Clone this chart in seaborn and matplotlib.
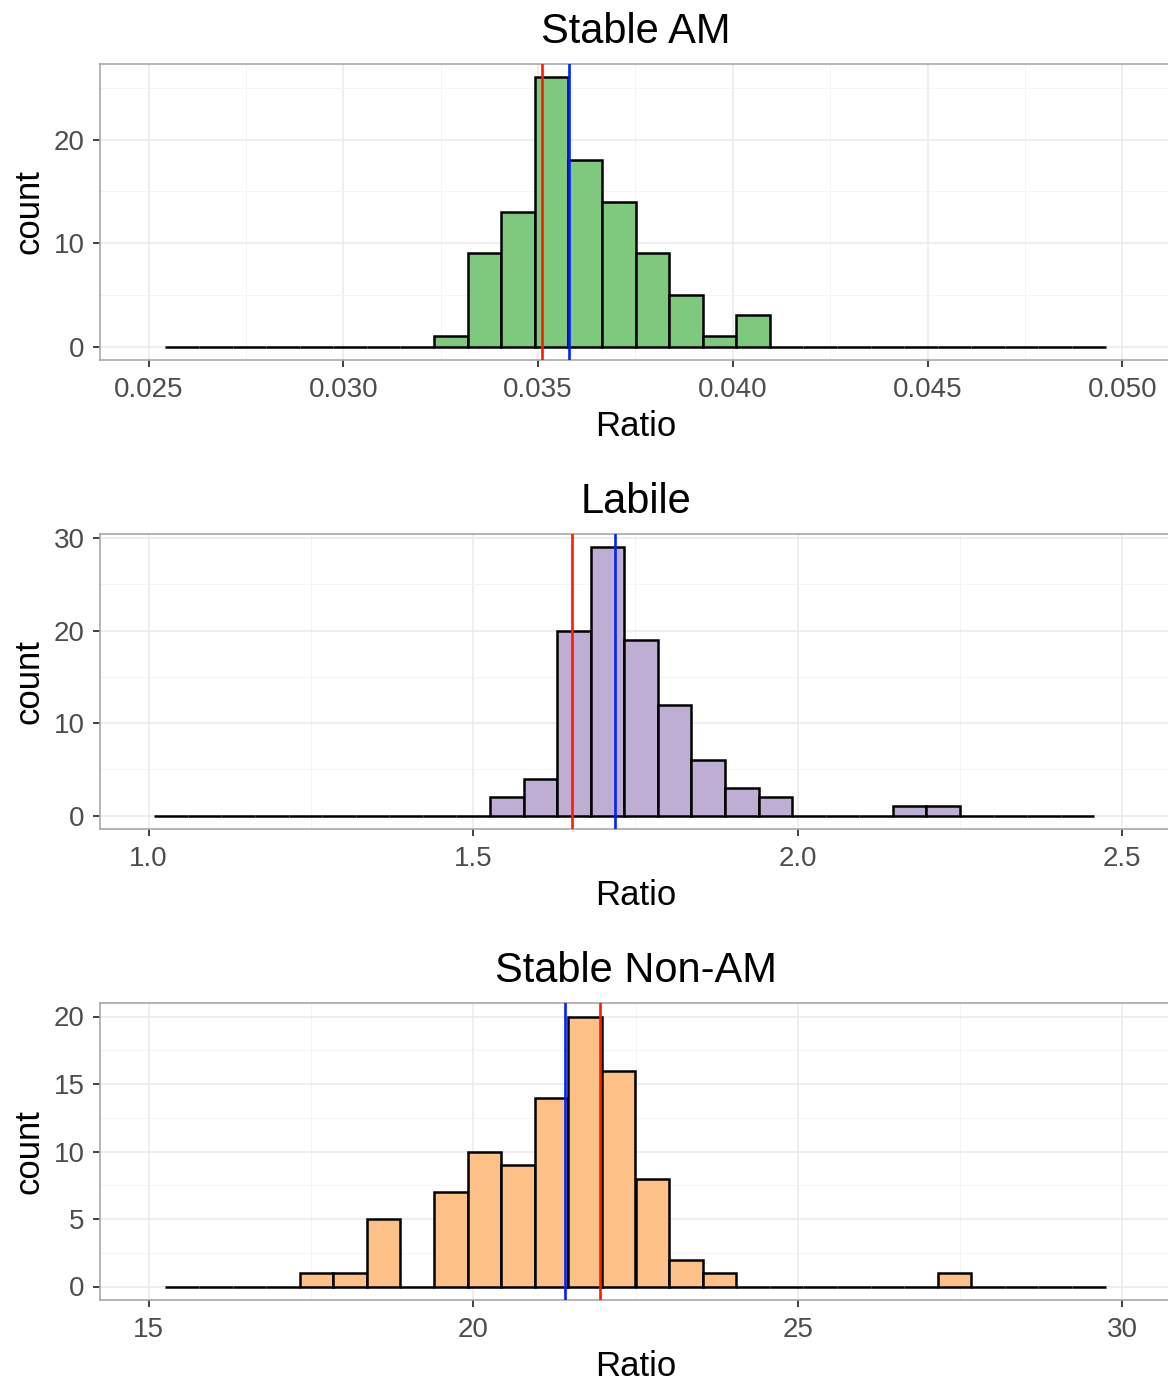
import matplotlib
matplotlib.use('Agg')
import numpy as np
import pandas as pd
import seaborn as sns
import matplotlib.pyplot as plt
from matplotlib.ticker import MultipleLocator, FormatStrFormatter

# panel titles and bar fills (RColorBrewer Accent)
titles = ["Stable AM", "Labile", "Stable Non-AM"]
fills = ["#7FC97F", "#BEAED4", "#FDC086"]

# x scale limits and major breaks
x_limits = [(0.025, 0.050), (1.0, 2.5), (15.0, 30.0)]
x_breaks = [[0.025, 0.030, 0.035, 0.040, 0.045, 0.050],
            [1.0, 1.5, 2.0, 2.5],
            [15, 20, 25, 30]]
x_fmt = ["%.3f", "%.1f", "%.0f"]
y_step = [10, 10, 5]

# histogram bins: first bin edge, 28 bins of width (range / 29)
bin_start = [0.025 + 0.025 / 58, 19.5 * 1.5 / 29, 15.0 + 15.0 / 58]
counts_am = [0, 0, 0, 0, 0, 0, 0, 0, 1, 9, 13, 26, 18, 14, 9, 5, 1, 3,
             0, 0, 0, 0, 0, 0, 0, 0, 0, 0]
counts_labile = [0, 0, 0, 0, 0, 0, 0, 0, 0, 0, 2, 4, 20, 29, 19, 12, 6, 3,
                 2, 0, 0, 0, 1, 1, 0, 0, 0, 0]
counts_nonam = [0, 0, 0, 0, 1, 1, 5, 0, 7, 10, 9, 14, 20, 16, 8, 2, 1, 0,
                0, 0, 0, 0, 0, 1, 0, 0, 0, 0]
counts = [counts_am, counts_labile, counts_nonam]

# reference lines
red_lines = [0.03510, 1.652, 21.96]
blue_lines = [0.03579, 1.718, 21.41]

sns.set_style("white")
plt.rcParams['font.family'] = ['Liberation Sans', 'DejaVu Sans']

fig = plt.figure(figsize=(11.68, 13.8), dpi=100)
W, H = 1168.0, 1380.0
# panel boxes in pixels: (left, top, right, bottom)
boxes = [(100, 64, 1171, 360), (100, 534, 1171, 829), (100, 1003, 1171, 1300)]

for i in range(3):
    l, t, r, b = boxes[i]
    ax = fig.add_axes([l / W, 1 - b / H, (r - l) / W, (b - t) / H])
    lo, hi = x_limits[i]
    width = (hi - lo) / 29
    n = len(counts[i])
    edges = bin_start[i] + width * np.arange(n + 1)
    df = pd.DataFrame({"Ratio": (edges[:-1] + edges[1:]) / 2, "n": counts[i]})

    ax.set_axisbelow(True)
    sns.histplot(data=df, x="Ratio", weights="n", bins=edges.tolist(),
                 color=fills[i], edgecolor="black", linewidth=1.8, alpha=1,
                 ax=ax, zorder=2)
    ax.axvline(red_lines[i], color="#FF1A00", lw=1.9, zorder=3)
    ax.axvline(blue_lines[i], color="#0022FF", lw=1.9, zorder=3)

    span = hi - lo
    ax.set_xlim(lo - 0.05 * span, hi + 0.05 * span)
    ymax = max(counts[i])
    ax.set_ylim(-0.05 * ymax, 1.05 * ymax)

    ax.set_xticks(x_breaks[i])
    ax.xaxis.set_major_formatter(FormatStrFormatter(x_fmt[i]))
    ax.xaxis.set_minor_locator(MultipleLocator((x_breaks[i][1] - x_breaks[i][0]) / 2))
    ax.yaxis.set_major_locator(MultipleLocator(y_step[i]))
    ax.yaxis.set_minor_locator(MultipleLocator(y_step[i] / 2))

    ax.grid(which="major", color="#EBEBEB", lw=1.2)
    ax.grid(which="minor", color="#F4F4F4", lw=0.7)
    ax.tick_params(which="major", direction="out", length=5, width=1.3,
                   color="#333333", labelsize=20, labelcolor="#4D4D4D",
                   bottom=True, left=True)
    ax.tick_params(axis="x", which="major", pad=7)
    ax.tick_params(axis="y", which="major", pad=6)
    ax.tick_params(which="minor", length=0)
    for sp in ax.spines.values():
        sp.set_color("#A8A8A8")
        sp.set_linewidth(1.2)

    ax.set_xlabel("Ratio", fontsize=25, labelpad=5, color="black")
    ax.set_ylabel("count", fontsize=25, labelpad=6, color="black")
    ax.set_title(titles[i], fontsize=30, pad=15, color="black")

fig.savefig("out.png", dpi=100)
plt.close()
